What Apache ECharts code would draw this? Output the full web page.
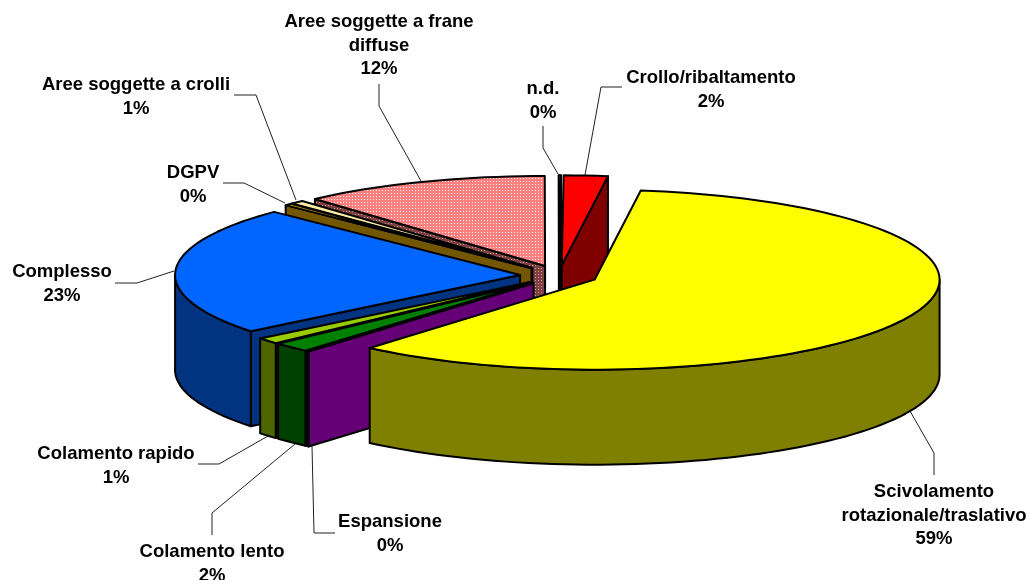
<!DOCTYPE html>
<html>
<head>
<meta charset="utf-8">
<script src="https://cdn.jsdelivr.net/npm/echarts@6/dist/echarts.min.js"></script>
<style>
html, body { margin: 0; background: #fff; }
#main { width: 1031px; height: 580px; }
</style>
</head>
<body>
<div id="main"></div>
<script>
// clockwise from the first slice
var names = ['Scivolamento\nrotazionale/traslativo', 'Espansione', 'Colamento lento', 'Colamento rapido', 'Complesso', 'DGPV', 'Aree soggette a crolli', 'Aree soggette a frane\ndiffuse', 'n.d.', 'Crollo/ribaltamento'];
var values = [59.1, 0.1, 1.75, 1.1, 23.1, 0.35, 0.65, 11.6, 0.1, 2.05];
var percentLabels = ['59%', '0%', '2%', '1%', '23%', '0%', '1%', '12%', '0%', '2%'];
var topColors = ['#ffff00', '#cc00ee', '#008000', '#99cc00', '#0066ff', '#ffc000', '#ffeeaa', 'dots', '#ffffff', '#ff0000'];
var sideColors = ['#808000', '#660077', '#004000', '#4d6600', '#003380', '#735600', '#735600', 'darkDots', '#999999', '#800000'];

// pie geometry
var cx = 559, cy = 275.5, rx = 345, ry = 90, depth = 95, explode = 0.113, startDeg = 7.7;

// label centres and leader lines, same order as names
var labelPos = [[934, 491], [390, 521], [212, 551], [116, 453], [62, 271], [193, 172], [136, 84], [379, 21], [543, 88], [711, 77]];
var leaders = [
    [[934, 475], [934, 453], [910, 411]],
    [[335, 533], [314, 533], [312, 446]],
    [[212, 535], [212, 513], [295, 444]],
    [[198, 464], [219, 464], [268, 436]],
    [[115, 283], [137, 283], [174, 271]],
    [[223, 183], [244, 183], [285, 203]],
    [[234, 95], [256, 95], [296, 200]],
    [[379, 84], [379, 106], [421, 181]],
    [[543, 126], [543, 148], [558, 174]],
    [[622, 87], [601, 87], [585, 175]]
];

function dotPattern(base, dot) {
    var c = document.createElement('canvas');
    c.width = 3;
    c.height = 3;
    var ctx = c.getContext('2d');
    ctx.fillStyle = base;
    ctx.fillRect(0, 0, 3, 3);
    ctx.fillStyle = dot;
    ctx.fillRect(1, 1, 1, 1);
    return { image: c, repeat: 'repeat' };
}
var fills = {
    dots: dotPattern('#ff7f7f', '#ffffff'),
    darkDots: dotPattern('#804040', '#c0a0a0')
};
function fillOf(c) {
    return fills[c] || c;
}

var total = values.reduce(function (a, b) { return a + b; }, 0);
var slices = [];
var acc = startDeg;
values.forEach(function (v) {
    var a = acc;
    var b = acc + v / total * 360;
    var mid = (a + b) / 2 * Math.PI / 180;
    slices.push({
        a: a,
        b: b,
        ox: cx + explode * rx * Math.sin(mid),
        oy: cy - explode * ry * Math.cos(mid)
    });
    acc = b;
});

function rim(s, deg, dy) {
    var t = deg * Math.PI / 180;
    return [s.ox + rx * Math.sin(t), s.oy - ry * Math.cos(t) + (dy || 0)];
}
function arc(s, from, to, dy) {
    var pts = [];
    var n = Math.max(2, Math.ceil((to - from) / 2));
    for (var i = 0; i <= n; i++) {
        pts.push(rim(s, from + (to - from) * i / n, dy));
    }
    return pts;
}
function poly(points, fill, w) {
    return {
        type: 'polygon',
        shape: { points: points },
        style: { fill: fill, stroke: '#000', lineWidth: w || 2, lineJoin: 'round' }
    };
}

function renderSlice(params, api) {
    var idx = api.value(0);
    var s = slices[idx];
    var top = fillOf(topColors[idx]);
    var side = fillOf(sideColors[idx]);
    var faces = [];
    var apex = [s.ox, s.oy];
    var apexLow = [s.ox, s.oy + depth];
    var sinA = Math.sin(s.a * Math.PI / 180);
    var sinB = Math.sin(s.b * Math.PI / 180);

    // radial walls, only those turned to the viewer
    if (sinA < 0) {
        faces.push(poly([apex, rim(s, s.a), rim(s, s.a, depth), apexLow], side));
    }
    if (sinB > 0) {
        faces.push(poly([apex, rim(s, s.b), rim(s, s.b, depth), apexLow], side));
    }
    // front part of the outer wall
    var f = Math.max(s.a, 90);
    var t = Math.min(s.b, 270);
    if (t > f) {
        faces.push(poly(arc(s, f, t, 0).concat(arc(s, f, t, depth).reverse()), side));
    }
    faces.push(poly([apex].concat(arc(s, s.a, s.b, 0)), top));
    return { type: 'group', children: faces };
}

function renderLabel(params, api) {
    var idx = api.value(0);
    var pos = labelPos[idx];
    return {
        type: 'group',
        children: [{
            type: 'polyline',
            shape: { points: leaders[idx] },
            style: { fill: null, stroke: '#222', lineWidth: 1 }
        }, {
            type: 'text',
            x: pos[0],
            y: pos[1] - 11,
            style: {
                text: names[idx] + '\n' + percentLabels[idx],
                fill: '#000',
                font: 'bold 18.5px "Liberation Sans", Arial, sans-serif',
                lineHeight: 23.7,
                align: 'center',
                verticalAlign: 'top'
            }
        }]
    };
}

// back slices first: the reverse of the clockwise order happens to be the painter's order
var drawOrder = values.map(function (v, i) { return [values.length - 1 - i]; });

var chart = echarts.init(document.getElementById('main'), null, { renderer: 'canvas' });
chart.setOption({
    animation: false,
    backgroundColor: '#fff',
    series: [{
        type: 'custom',
        coordinateSystem: 'none',
        renderItem: renderSlice,
        data: drawOrder,
        silent: true
    }, {
        type: 'custom',
        coordinateSystem: 'none',
        renderItem: renderLabel,
        data: drawOrder,
        silent: true,
        z: 3
    }]
});
</script>
</body>
</html>
